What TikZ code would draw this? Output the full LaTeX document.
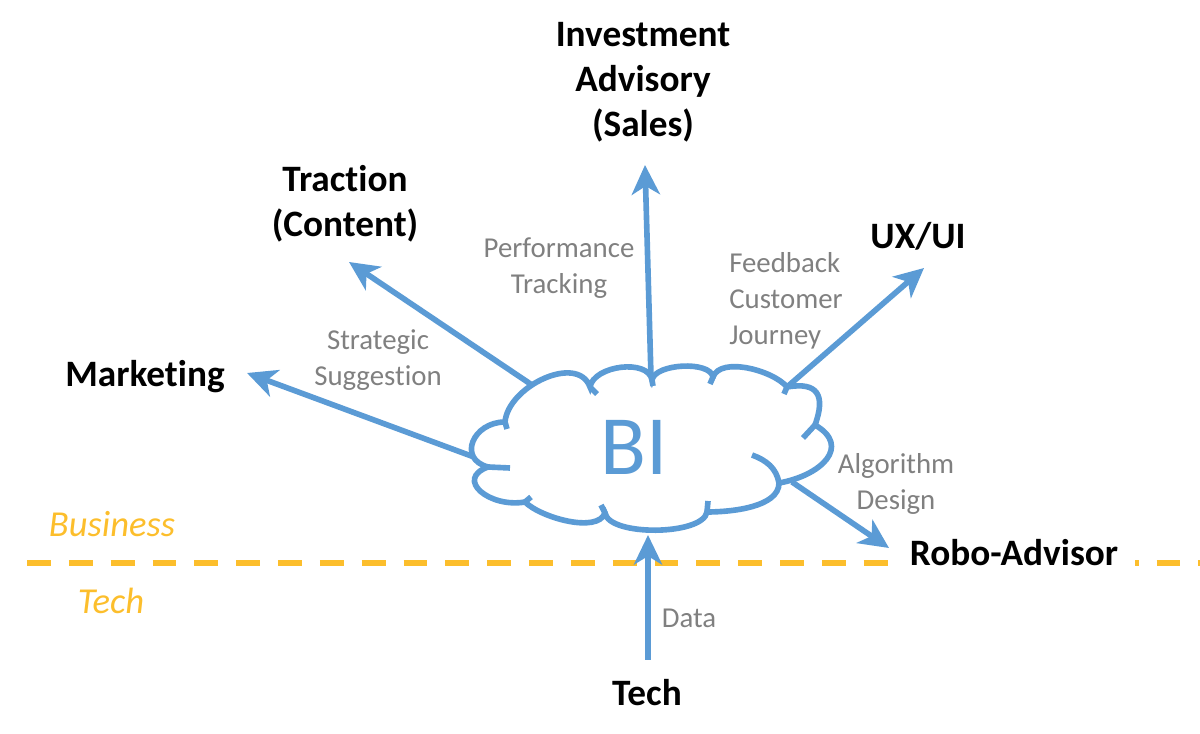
\documentclass[tikz,border=0pt]{standalone}
\usepackage{fontspec}
\setmainfont{Carlito}[Ligatures=NoCommon]
\usetikzlibrary{arrows.meta}

\definecolor{biblue}{RGB}{91,155,213}
\definecolor{labelgray}{RGB}{128,128,128}
\definecolor{gold}{RGB}{252,190,44}

\tikzset{
  flow/.style={biblue, line width=4pt, -{Stealth[length=21pt,width=20pt,inset=6pt]}},
  target/.style={font=\fontsize{26.5}{32}\selectfont\bfseries, align=center},
  flowlabel/.style={labelgray, font=\fontsize{20.5}{25.5}\selectfont, align=center},
  side/.style={gold, font=\fontsize{26}{32}\selectfont\itshape},
  puff/.style={biblue, line width=4pt},
}

\begin{document}
\begin{tikzpicture}[x=0.025cm, y=0.025cm]
    \useasboundingbox (0,0) rectangle (1200,734);

    % business / tech divide
    \coordinate (divide west) at (27,171);
    \coordinate (divide east) at (1200,171);
    \draw[gold, line width=4pt, dash pattern=on 17pt off 12.75pt] (divide west) -- (divide east);
    \node[side] (business) at (112,210) {Business};
    \node[side] (techside) at (111,133) {Tech};

    % targets
    \node[target] (invest) at (643,652) {Investment\\Advisory\\(Sales)};
    \node[target] (traction) at (345,530) {Traction\\(Content)};
    \node[target] (uxui) at (918,498) {UX/UI};
    \node[target] (marketing) at (145,357) {Marketing};
    \node[target, fill=white, inner xsep=12pt] (robo) at (1014,181) {Robo-Advisor};
    \node[target] (tech) at (647,41) {Tech};

    % flow labels
    \node[flowlabel] (perf) at (559,466) {Performance\\Tracking};
    \node[flowlabel] (strat) at (378,374) {Strategic\\Suggestion};
    \node[flowlabel, anchor=west, align=left, inner xsep=0pt] (feedback) at (729,433) {Feedback\\Customer\\Journey};
    \node[flowlabel] (algo) at (896,250) {Algorithm\\Design};
    \node[flowlabel] (data) at (689,116) {Data};

    % arrows out of the cloud
    \coordinate (out mkt) at (474,277);   \coordinate (tip mkt) at (247,361);
    \coordinate (out trc) at (532,349);   \coordinate (tip trc) at (349,472);
    \coordinate (out inv) at (651,357);   \coordinate (tip inv) at (645,569);
    \coordinate (out ux) at (787,347);    \coordinate (tip ux) at (924,466);
    \coordinate (out robo) at (792,252);  \coordinate (tip robo) at (889,186);
    \draw[flow] (out mkt) -- (tip mkt);
    \draw[flow] (out trc) -- (tip trc);
    \draw[flow] (out inv) -- (tip inv);
    \draw[flow] (out ux) -- (tip ux);
    \draw[flow] (out robo) -- (tip robo);

    % cloud
    \coordinate (c1) at (505,312);
    \coordinate (c2) at (590,347);
    \coordinate (c3) at (652,354);
    \coordinate (c4) at (713,357);
    \coordinate (c5) at (787,347);
    \coordinate (c6) at (815,309);
    \coordinate (c7) at (779,251);
    \coordinate (c8) at (707,222);
    \coordinate (c9) at (605,221);
    \coordinate (c10) at (525,232);
    \coordinate (c11) at (488,267);
    \draw[puff, fill=white] (c11) to[out=165,in=180,looseness=1.7] (c1)
        to[out=85,in=110,looseness=1.0] (c2)
        to[out=80,in=100,looseness=0.9] (c3)
        to[out=80,in=100,looseness=0.7] (c4)
        to[out=70,in=130,looseness=0.75] (c5)
        to[out=10,in=70,looseness=1.7] (c6)
        to[out=-30,in=10,looseness=1.6] (c7)
        to[out=-90,in=0,looseness=0.8] (c8)
        to[out=-100,in=-80,looseness=0.6] (c9)
        to[out=-110,in=-45,looseness=0.7] (c10)
        to[out=190,in=200,looseness=1.8] (c11) -- cycle;
    \draw[puff] (c1) -- (507,305);
    \draw[puff] (c11) -- (510,266);
    \draw[puff] (c10) -- (531,237);
    \draw[puff] (c9) -- (601,229);
    \draw[puff] (c8) -- (708,233);
    \draw[puff] (c7) to[out=100,in=-20] (752,279);
    \draw[puff] (c6) -- (803,296);
    \draw[puff] (c5) -- (784,340);
    \draw[puff] (c4) -- (710,350);
    \draw[puff] (c3) -- (653,348);
    \draw[puff] (c2) -- (597,340);
    \node[biblue, font=\fontsize{60}{72}\selectfont] (bi) at (634,287) {BI};

    % data feed
    \coordinate (tech feed) at (648,74);
    \coordinate (in data) at (648,199);
    \draw[flow] (tech feed) -- (in data);
\end{tikzpicture}
\end{document}
